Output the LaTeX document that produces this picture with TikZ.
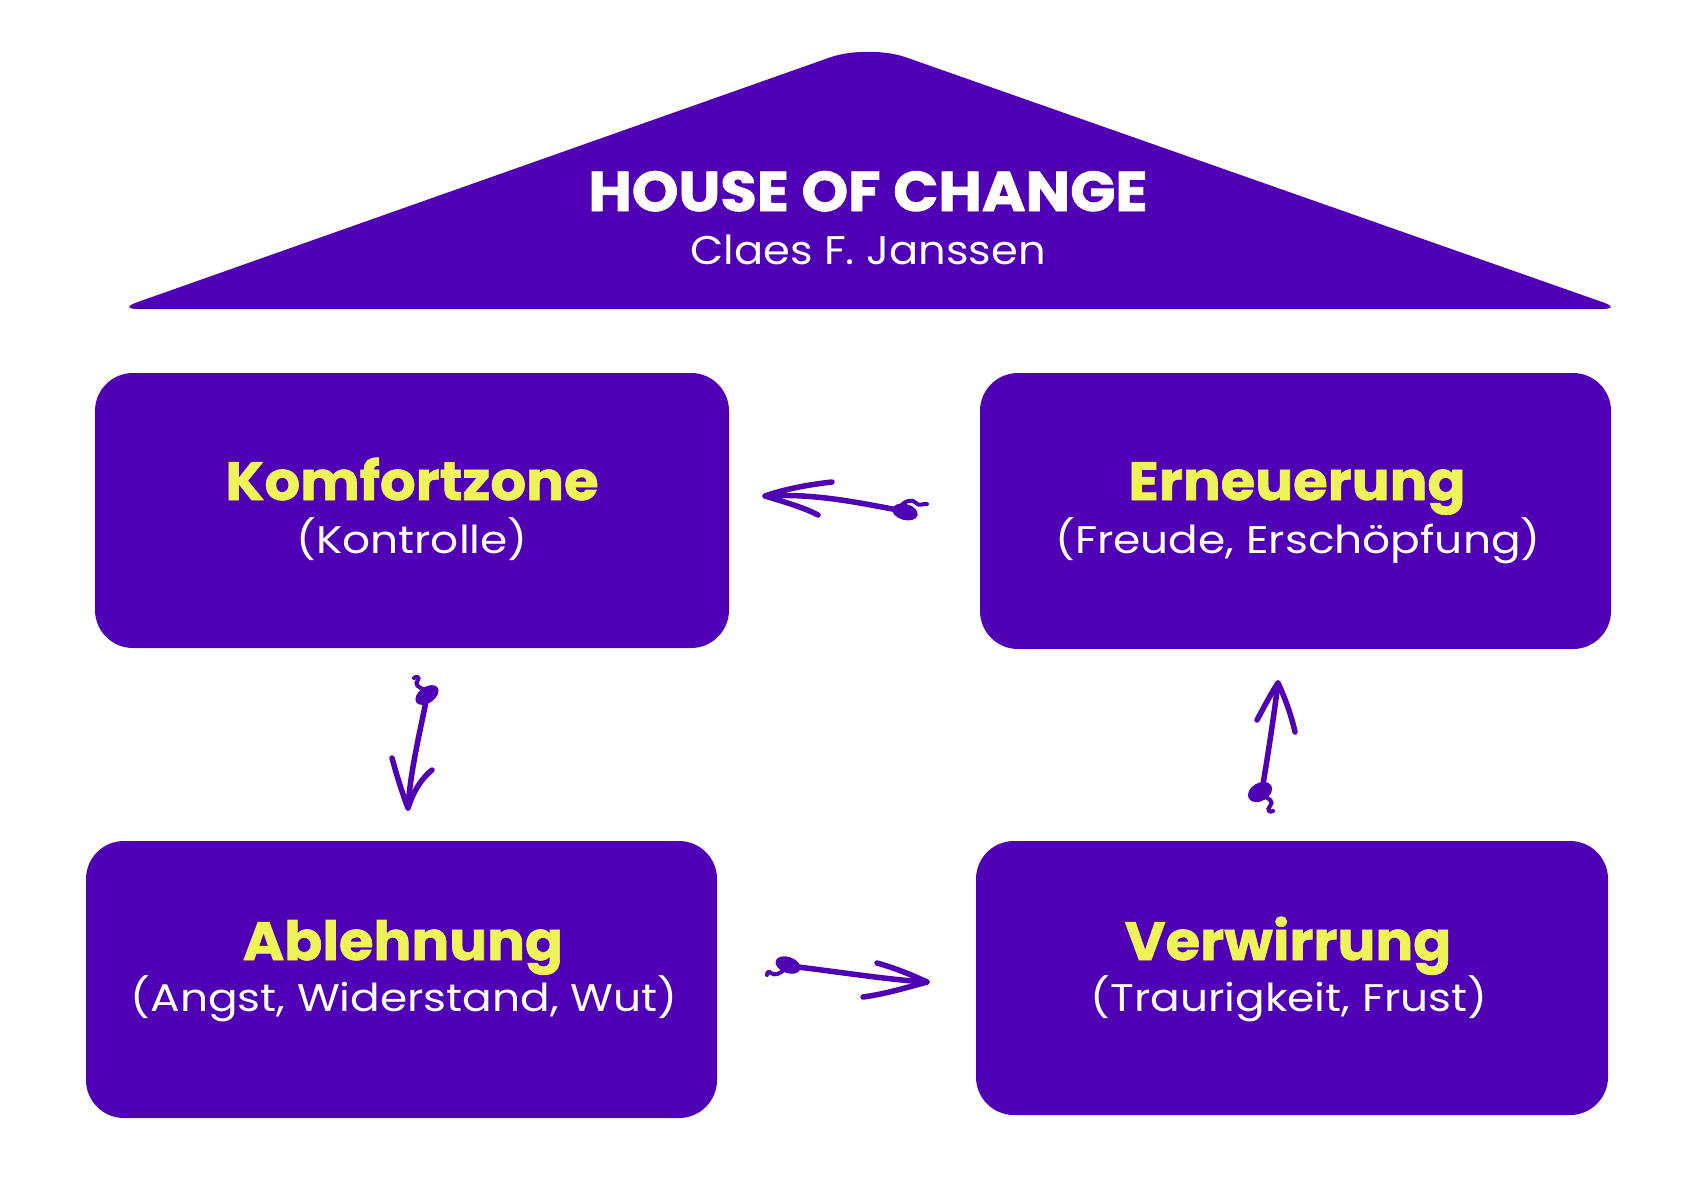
\documentclass[tikz,border=0pt]{standalone}
\usepackage{fontspec}
\setmainfont{Poppins}
\newfontfamily\subfont{Poppins}[FakeStretch=1.14]
\newfontfamily\authfont{Poppins}[FakeStretch=1.08]
\newfontfamily\ttlfont{Poppins}[FakeStretch=1.04, FakeBold=1.2]
\newfontfamily\housefont{Poppins}[FakeStretch=1.06, FakeBold=1.5]
\definecolor{hpurple}{HTML}{5000B4}
\definecolor{hyellow}{HTML}{EEF35A}
\begin{document}
\begin{tikzpicture}[x=1pt,y=-1pt,
  box/.style={fill=hpurple, rounded corners=38pt, inner sep=0pt},
  ttl/.style={text=hyellow, font=\ttlfont\fontsize{54}{60}\selectfont\bfseries, anchor=base, inner sep=0pt},
  sub/.style={text=white, font=\subfont\fontsize{38.5}{44}\selectfont, anchor=base, inner sep=0pt},
  hand/.style={draw=hpurple, line width=5.5pt, line cap=round, line join=round},
  curl/.style={draw=hpurple, line width=4pt, line cap=round},
  blob/.style={fill=hpurple}]
\useasboundingbox[fill=white] (0,0) rectangle (1685,1191);
% roof
\fill[hpurple, rounded corners=20pt] (118,309) [rounded corners=40pt] -- (868,44) [rounded corners=20pt] -- (1622,309) -- cycle;
\node[text=white, font=\housefont\fontsize{56}{60}\selectfont\bfseries, anchor=base, inner sep=0pt] (house) at (868,211) {HOUSE OF CHANGE};
\node[text=white, font=\authfont\fontsize{40}{44}\selectfont, anchor=base, inner sep=0pt] (author) at (868,264) {Claes F. Janssen};
% boxes
\node[box, minimum width=634pt, minimum height=275pt] (b1) at (412,510.5) {};
\node[box, minimum width=631pt, minimum height=276pt] (b2) at (1295.5,511) {};
\node[box, minimum width=631pt, minimum height=277pt] (b3) at (401.5,979.5) {};
\node[box, minimum width=632pt, minimum height=274pt] (b4) at (1292,978) {};
% texts
\node[ttl] (t1) at (412,500) {Komfortzone};
\node[sub] (s1) at (412,553) {(Kontrolle)};
\node[ttl] (t2) at (1297,500) {Erneuerung};
\node[sub] (s2) at (1298,553) {(Freude, Erschöpfung)};
\node[ttl] (t3) at (403,960) {Ablehnung};
\node[sub] (s3) at (404,1011) {(Angst, Widerstand, Wut)};
\node[ttl] (t4) at (1288,960) {Verwirrung};
\node[sub] (s4) at (1289,1011) {(Traurigkeit, Frust)};
% arrow 1 (top)
\coordinate (a1tip) at (765,496);
\coordinate (a1end) at (903,511);
\draw[hand] (a1tip) .. controls (815,493) and (860,503) .. (a1end);
\draw[hand] (832,482) .. controls (805,485) and (782,490) .. (a1tip) .. controls (785,502) and (805,508) .. (818,515);
\fill[blob, rotate around={-15:(905,512)}] (905,512) ellipse [x radius=13pt, y radius=8pt];
\draw[curl] (900,507) .. controls (905,500) and (913,499) .. (916,503) .. controls (919,507) and (924,503) .. (927,504);
% arrow 2 (left)
\coordinate (a2tip) at (408,808);
\coordinate (a2end) at (427,697);
\draw[hand] (a2end) .. controls (418,740) and (410,775) .. (a2tip);
\draw[hand] (392,758) .. controls (398,780) and (403,795) .. (a2tip) .. controls (414,790) and (422,778) .. (432,770);
\fill[blob, rotate around={35:(427,695)}] (427,695) ellipse [x radius=13pt, y radius=8pt];
\draw[curl] (426,690) .. controls (418,688) and (414,684) .. (418,680) .. controls (420,677) and (416,676) .. (414,678);
% arrow 3 (right)
\coordinate (a3tip) at (1278,683);
\coordinate (a3end) at (1262,790);
\draw[hand] (a3end) .. controls (1268,755) and (1274,715) .. (a3tip);
\draw[hand] (1257,720) .. controls (1265,705) and (1272,692) .. (a3tip) .. controls (1286,700) and (1292,718) .. (1295,732);
\fill[blob, rotate around={30:(1260,792)}] (1260,792) ellipse [x radius=13pt, y radius=9pt];
\draw[curl] (1262,796) .. controls (1270,798) and (1274,802) .. (1270,806) .. controls (1266,810) and (1270,813) .. (1273,811);
% arrow 4 (bottom)
\coordinate (a4tip) at (927,982);
\coordinate (a4end) at (790,966);
\draw[hand] (a4end) .. controls (840,972) and (890,980) .. (a4tip);
\draw[hand] (877,963) .. controls (895,968) and (912,975) .. (a4tip) .. controls (905,988) and (885,994) .. (863,997);
\fill[blob, rotate around={-20:(788,965)}] (788,965) ellipse [x radius=13pt, y radius=8pt];
\draw[curl] (785,969) .. controls (780,974) and (774,976) .. (771,973) .. controls (769,971) and (767,972) .. (767,975);
\end{tikzpicture}
\end{document}
